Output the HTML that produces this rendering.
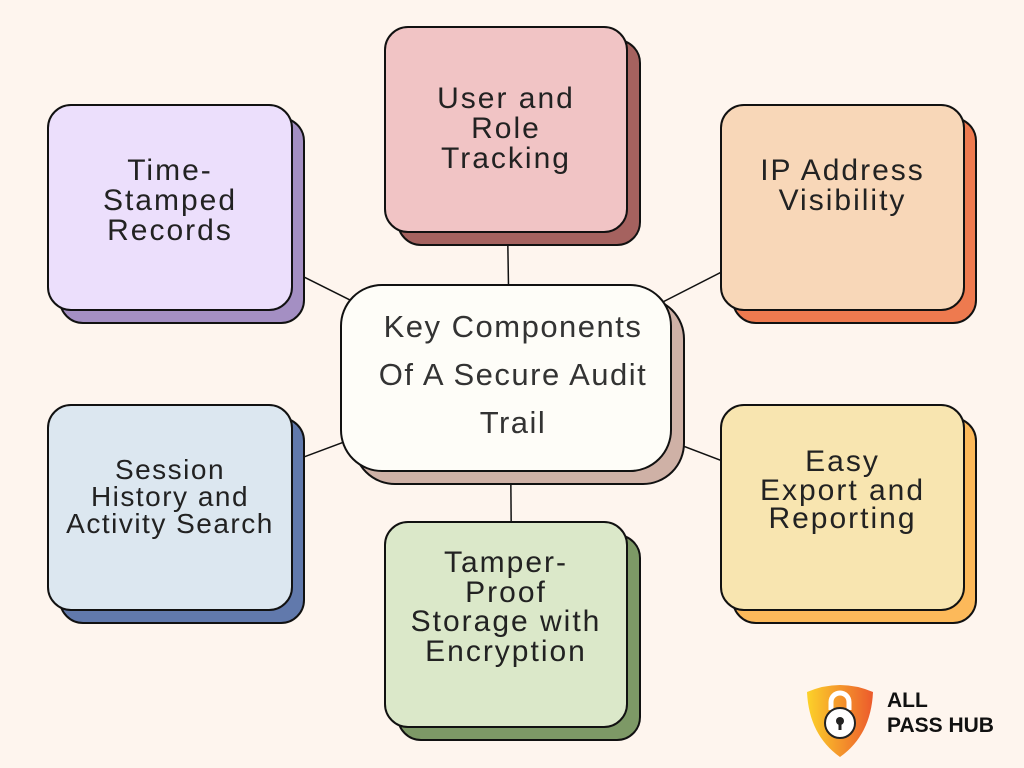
<!DOCTYPE html>
<html><head><meta charset="utf-8"><style>
body{margin:0;width:1024px;height:768px;background:#fef5ee;position:relative;overflow:hidden;font-family:"Liberation Sans",sans-serif}
.b{position:absolute;border:2px solid #111;border-radius:24px;box-sizing:border-box}
.t{position:absolute;text-align:center;color:#222;font-size:30px;line-height:30px;letter-spacing:2px}
</style></head><body>
<svg width="1024" height="768" style="position:absolute;left:0;top:0">
<g stroke="#111" stroke-width="1.5">
<line x1="510" y1="380" x2="170" y2="210"/>
<line x1="510" y1="380" x2="506" y2="130"/>
<line x1="510" y1="380" x2="843" y2="210"/>
<line x1="510" y1="380" x2="170" y2="507"/>
<line x1="510" y1="380" x2="512" y2="624"/>
<line x1="510" y1="380" x2="843" y2="507"/>
</g></svg>

<div class="b" style="left:59px;top:117px;width:246px;height:207px;background:#a48fc3"></div>
<div class="b" style="left:47px;top:104px;width:246px;height:207px;background:#ecdffc"></div>
<div class="t" style="left:47px;top:156px;width:246px">Time-<br>Stamped<br>Records</div>

<div class="b" style="left:397px;top:39px;width:244px;height:207px;background:#a5625f"></div>
<div class="b" style="left:384px;top:26px;width:244px;height:207px;background:#f1c4c5"></div>
<div class="t" style="left:384px;top:84px;width:244px">User and<br>Role<br>Tracking</div>

<div class="b" style="left:732px;top:117px;width:245px;height:207px;background:#ee7a4f"></div>
<div class="b" style="left:720px;top:104px;width:245px;height:207px;background:#f8d7b8"></div>
<div class="t" style="left:720px;top:156px;width:245px">IP Address<br>Visibility</div>

<div class="b" style="left:59px;top:417px;width:246px;height:207px;background:#6179ac"></div>
<div class="b" style="left:47px;top:404px;width:246px;height:207px;background:#dce7f0"></div>
<div class="t" style="left:47px;top:456px;width:246px;line-height:27px;font-size:28px;letter-spacing:1.5px">Session<br>History and<br>Activity Search</div>

<div class="b" style="left:397px;top:534px;width:244px;height:207px;background:#7d9966"></div>
<div class="b" style="left:384px;top:521px;width:244px;height:207px;background:#dbe8c9"></div>
<div class="t" style="left:384px;top:548px;width:244px;line-height:29.5px">Tamper-<br>Proof<br>Storage with<br>Encryption</div>

<div class="b" style="left:732px;top:417px;width:245px;height:207px;background:#fcb95a"></div>
<div class="b" style="left:720px;top:404px;width:245px;height:207px;background:#f8e5b0"></div>
<div class="t" style="left:720px;top:448px;width:245px;line-height:28.5px">Easy<br>Export and<br>Reporting</div>

<div class="b" style="left:353px;top:297px;width:332px;height:188px;background:#cfb1a6;border-radius:42px"></div>
<div class="b" style="left:340px;top:284px;width:332px;height:188px;background:#fefdf8;border-radius:42px"></div>
<div class="t" style="left:340px;top:303px;width:346px;font-size:31px;line-height:48px;color:#333;letter-spacing:1.5px">Key Components<br>Of A Secure Audit<br>Trail</div>

<svg width="70" height="80" style="position:absolute;left:805px;top:680px" viewBox="0 0 70 80">
<defs><linearGradient id="g" x1="0" x2="1"><stop offset="0" stop-color="#fcd22a"/><stop offset="1" stop-color="#ec5a2c"/></linearGradient></defs>
<path d="M2 12 Q35 -2 68 12 Q66 55 35 77 Q4 55 2 12Z" fill="url(#g)"/>
<path d="M26 30 V22 A9 9 0 0 1 44 22 V30" fill="none" stroke="#fff" stroke-width="5"/>
<circle cx="35" cy="43" r="15" fill="#fff" stroke="#222" stroke-width="2"/>
<circle cx="35" cy="41" r="4" fill="#222"/><rect x="33.5" y="42" width="3" height="8" fill="#222"/>
</svg>
<div style="position:absolute;left:887px;top:688px;font-size:21px;font-weight:bold;line-height:25px;color:#111">ALL<br>PASS HUB</div>
</body></html>
